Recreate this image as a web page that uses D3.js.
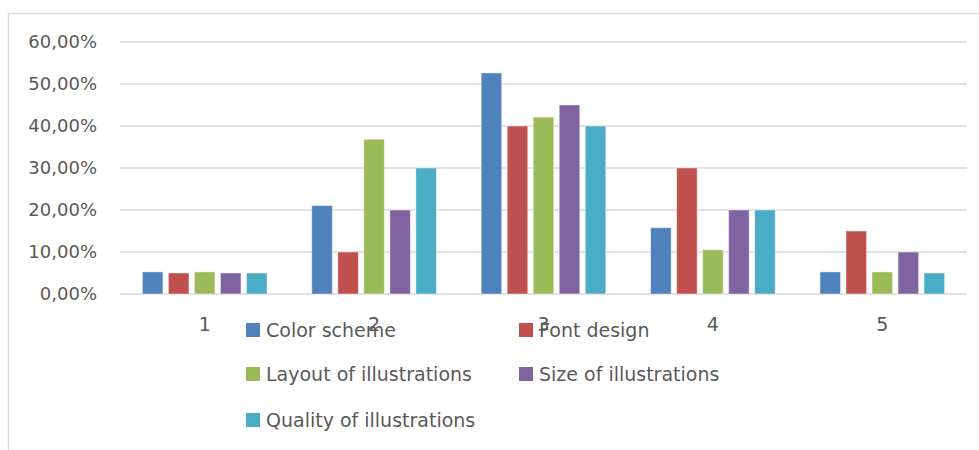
<!DOCTYPE html>
<html>
<head>
<meta charset="utf-8">
<script src="https://cdn.jsdelivr.net/npm/d3@7"></script>
<style>
  html, body { margin: 0; padding: 0; background: #fff; }
  svg { display: block; }
</style>
</head>
<body>
<svg id="chart" width="979" height="450"></svg>
<script>
const categories = ["1", "2", "3", "4", "5"];
const seriesNames = ["Color scheme", "Font design", "Layout of illustrations", "Size of illustrations", "Quality of illustrations"];
const colorScheme = [0.0526, 0.2105, 0.5263, 0.1579, 0.0526];
const fontDesign = [0.05, 0.10, 0.40, 0.30, 0.15];
const layoutOfIllustrations = [0.0526, 0.3684, 0.4211, 0.1053, 0.0526];
const sizeOfIllustrations = [0.05, 0.20, 0.45, 0.20, 0.10];
const qualityOfIllustrations = [0.05, 0.30, 0.40, 0.20, 0.05];
const yTicks = [0, 0.1, 0.2, 0.3, 0.4, 0.5, 0.6];
const colors = ["#4f81bd", "#c0504d", "#9bbb59", "#8064a2", "#4bacc6"];

const seriesValues = [colorScheme, fontDesign, layoutOfIllustrations, sizeOfIllustrations, qualityOfIllustrations];

const svg = d3.select("#chart");
const font = "'DejaVu Sans', sans-serif";
const textColor = "#595959";

// chart frame
svg.append("rect")
  .attr("x", 8.5).attr("y", 13.5)
  .attr("width", 1000).attr("height", 1000)
  .attr("fill", "none").attr("stroke", "#d9d9d9").attr("stroke-width", 1.5);

const plot = { left: 120, right: 967, top: 42, bottom: 294 };

const x0 = d3.scaleBand().domain(categories).range([plot.left, plot.right]).padding(0);
const x1 = d3.scaleBand().domain(d3.range(seriesNames.length))
  .range([0, x0.bandwidth()]).paddingInner(0.21).paddingOuter(0.86);
const y = d3.scaleLinear().domain([0, 0.6]).range([plot.bottom, plot.top]);

const fmt = v => d3.format(".2f")(v * 100).replace(".", ",") + "%";

// gridlines
svg.append("g")
  .selectAll("line").data(yTicks).join("line")
  .attr("x1", plot.left).attr("x2", plot.right)
  .attr("y1", d => y(d)).attr("y2", d => y(d))
  .attr("stroke", "#d9d9d9").attr("stroke-width", 1.3);

// y axis labels
const yAxis = d3.axisLeft(y).tickValues(yTicks).tickFormat(fmt).tickSize(0).tickPadding(0);
const gy = svg.append("g").attr("transform", `translate(97,0)`).call(yAxis);
gy.select(".domain").remove();
gy.selectAll("text")
  .attr("font-family", font).attr("font-size", 18).attr("fill", textColor);

// bars
const groups = svg.append("g").selectAll("g").data(categories).join("g")
  .attr("transform", d => `translate(${x0(d)},0)`);
groups.selectAll("rect")
  .data((c, ci) => seriesValues.map((vals, si) => ({ si, v: vals[ci] })))
  .join("rect")
  .attr("x", d => x1(d.si))
  .attr("width", x1.bandwidth())
  .attr("y", d => y(d.v))
  .attr("height", d => y(0) - y(d.v))
  .attr("fill", d => colors[d.si])
  .attr("stroke", "rgba(255,255,255,0.45)")
  .attr("stroke-width", 1);

// x axis labels
const xAxis = d3.axisBottom(x0).tickSize(0).tickPadding(0);
const gx = svg.append("g").attr("transform", `translate(0,${plot.bottom})`).call(xAxis);
gx.select(".domain").remove();
gx.selectAll("text")
  .attr("font-family", font).attr("font-size", 19).attr("fill", textColor)
  .attr("dy", null).attr("y", 37);

// legend
const legendPos = [
  { x: 246, y: 330 }, { x: 519, y: 330 },
  { x: 246, y: 374 }, { x: 519, y: 374 },
  { x: 246, y: 420 }
];
const lg = svg.append("g").selectAll("g").data(seriesNames).join("g")
  .attr("transform", (d, i) => `translate(${legendPos[i].x},${legendPos[i].y})`);
lg.append("rect")
  .attr("x", 0).attr("y", -7).attr("width", 14).attr("height", 14)
  .attr("fill", (d, i) => colors[i]);
lg.append("text")
  .attr("x", 20).attr("y", 0).attr("dy", "0.36em")
  .attr("font-family", font).attr("font-size", 19).attr("fill", textColor)
  .text(d => d);
</script>
</body>
</html>
